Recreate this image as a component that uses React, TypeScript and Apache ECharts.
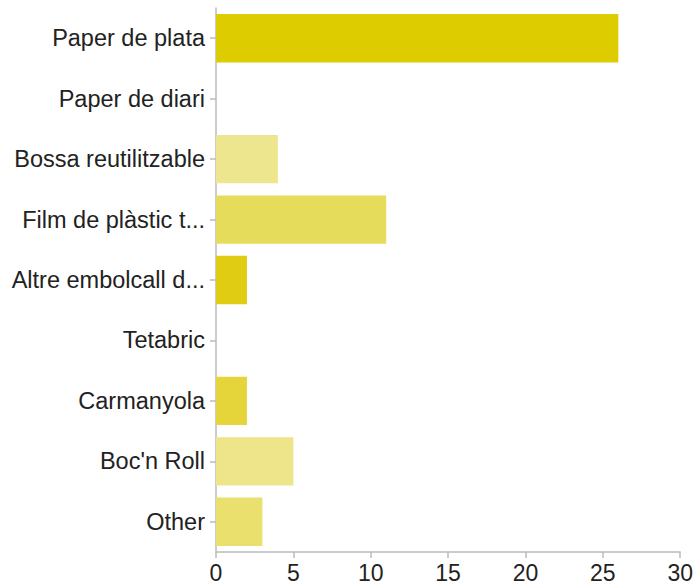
import React, { useEffect, useRef } from "react";
import * as echarts from "echarts";

const categories = [
  "Paper de plata",
  "Paper de diari",
  "Bossa reutilitzable",
  "Film de plàstic t...",
  "Altre embolcall d...",
  "Tetabric",
  "Carmanyola",
  "Boc'n Roll",
  "Other",
];
const values = [26, 0, 4, 11, 2, 0, 2, 5, 3];
const barColors = [
  "#DCCC00",
  "#DCCC00",
  "#EEE68F",
  "#E6DC5C",
  "#E1CC14",
  "#E1CC14",
  "#E5D53A",
  "#EEE58A",
  "#EAE06E",
];
const xTicks = [0, 5, 10, 15, 20, 25, 30];

export default function App() {
  const ref = useRef<HTMLDivElement>(null);
  useEffect(() => {
    if (!ref.current) return;
    document.body.style.margin = "0";
    document.body.style.overflow = "hidden";
    const chart = echarts.init(ref.current, undefined, { renderer: "svg" });
    const font = "'Liberation Sans', Arial, Helvetica, sans-serif";
    chart.setOption({
      animation: false,
      grid: { left: 216, right: 12, top: 8, bottom: 33, containLabel: false },
      xAxis: {
        type: "value",
        min: xTicks[0],
        max: xTicks[xTicks.length - 1],
        interval: 5,
        axisLine: { show: true, lineStyle: { color: "#bbbbbb", width: 1.5 } },
        axisTick: { show: true, length: 6, lineStyle: { color: "#bbbbbb", width: 1.5 } },
        axisLabel: { color: "#222", fontSize: 23, fontFamily: font, margin: 9 },
        splitLine: { show: false },
      },
      yAxis: {
        type: "category",
        data: categories,
        inverse: true,
        axisLine: { show: true, lineStyle: { color: "#bbbbbb", width: 1.5 } },
        axisTick: { show: true, length: 6, alignWithLabel: true, lineStyle: { color: "#bbbbbb", width: 1.5 } },
        axisLabel: { color: "#222", fontSize: 23.5, fontFamily: font, margin: 11 },
      },
      series: [
        {
          type: "bar",
          data: values.map((v, i) => ({ value: v, itemStyle: { color: barColors[i] } })),
          barCategoryGap: "20%",
        },
      ],
    });
    return () => chart.dispose();
  }, []);
  return (
    <div
      ref={ref}
      style={{ position: "absolute", left: 0, top: 0, width: 696, height: 585 }}
    />
  );
}
